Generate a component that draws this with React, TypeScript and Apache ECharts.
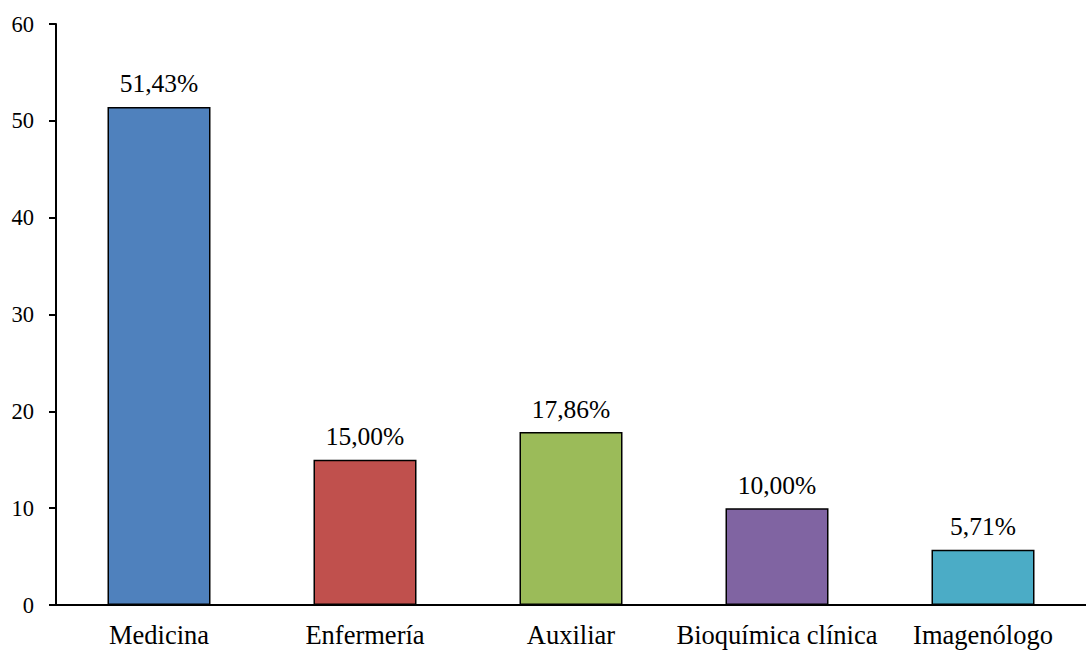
import React, { useEffect, useRef } from "react";
import * as echarts from "echarts";

const categories = ["Medicina", "Enfermería", "Auxiliar", "Bioquímica clínica", "Imagenólogo"];
const values = [51.43, 15.0, 17.86, 10.0, 5.71];
const valueLabels = ["51,43%", "15,00%", "17,86%", "10,00%", "5,71%"];
const colors = ["#4F81BD", "#C0504D", "#9BBB59", "#8064A2", "#4BACC6"];

const FONT = "Liberation Serif";

export default function App() {
  const ref = useRef<HTMLDivElement>(null);
  useEffect(() => {
    if (!ref.current) return;
    const chart = echarts.init(ref.current, undefined, { renderer: "svg" });
    chart.setOption({
      animation: false,
      grid: { left: 56, right: 0, top: 24, bottom: 50, containLabel: false },
      xAxis: {
        type: "category",
        data: categories,
        axisLine: { lineStyle: { color: "#000", width: 2 } },
        axisTick: { show: false },
        axisLabel: { color: "#000", fontFamily: FONT, fontSize: 26.5, margin: 16, interval: 0 },
      },
      yAxis: {
        type: "value",
        min: 0,
        max: 60,
        interval: 10,
        splitLine: { show: false },
        axisLine: { show: true, lineStyle: { color: "#000", width: 2 } },
        axisTick: { show: true, length: 7, lineStyle: { color: "#000", width: 2 } },
        axisLabel: { color: "#000", fontFamily: FONT, fontSize: 22.5, margin: 22 },
      },
      series: [
        {
          type: "bar",
          barWidth: "50%",
          data: values.map((v, i) => ({
            value: v,
            itemStyle: { color: colors[i], borderColor: "#000", borderWidth: 1.5 },
          })),
          label: {
            show: true,
            position: "top",
            distance: 10,
            color: "#000",
            fontFamily: FONT,
            fontSize: 25.5,
            formatter: (p: any) => valueLabels[p.dataIndex],
          },
        },
      ],
    });
    return () => chart.dispose();
  }, []);
  return (
    <div
      ref={ref}
      style={{ position: "absolute", left: 0, top: 0, width: 1086, height: 655, background: "#fff" }}
    />
  );
}
